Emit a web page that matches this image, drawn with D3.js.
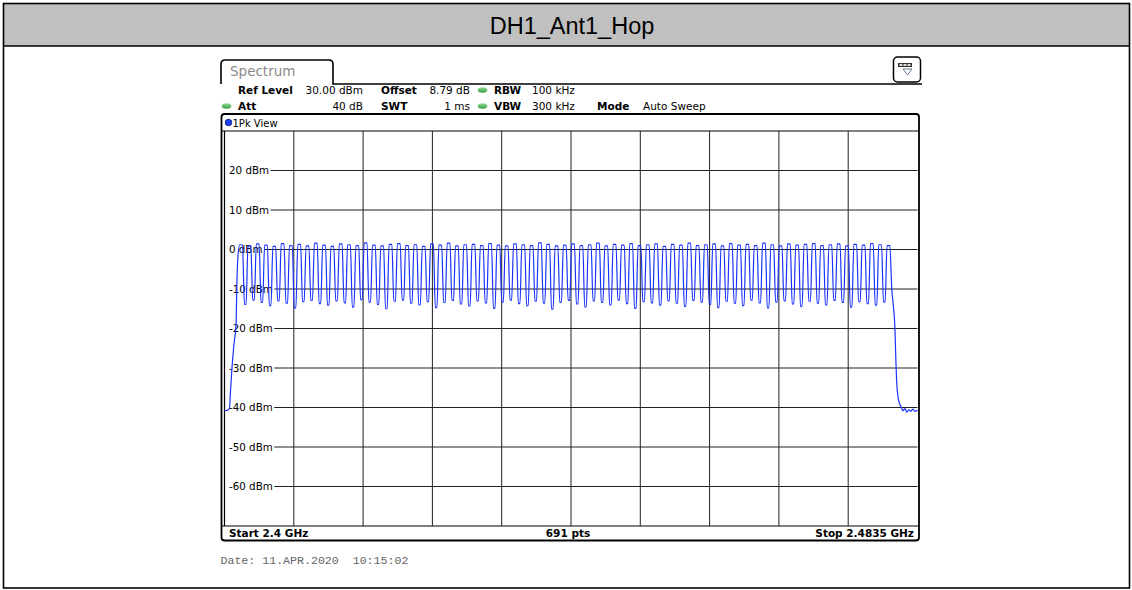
<!DOCTYPE html>
<html>
<head>
<meta charset="utf-8">
<script src="https://cdn.jsdelivr.net/npm/d3@7"></script>
<style>
body { margin: 0; background: #fff; }
svg { display: block; }
text { white-space: pre; }
</style>
</head>
<body>
<script>
var svgWidth = 1132;
var svgHeight = 590;

// values
var title = "DH1_Ant1_Hop";
var levelTicks = [20, 10, 0, -10, -20, -30, -40, -50, -60];
var levelTop = 30, levelBottom = -70;
var freqStart = 2400.0, freqStop = 2483.5;

// hopping channels (MHz) and the level seen on each one
var channels = d3.range(2402, 2481);
var peakLevels = [
    1.2, 0.9, 1.4, 1.1, 0.8, 1.5, 1.0, 1.3, 0.9, 1.6,
    1.1, 0.8, 1.4, 1.2, 1.0, 1.7, 1.1, 0.9, 1.3, 1.5,
    1.0, 1.2, 0.8, 1.4, 1.1, 1.6, 0.9, 1.2, 1.3, 1.0,
    1.5, 1.1, 0.9, 1.4, 1.2, 1.0, 1.7, 1.3, 0.9, 1.1,
    1.4, 1.0, 1.2, 1.6, 0.9, 1.3, 1.1, 1.5, 1.0, 1.2,
    1.4, 0.8, 1.3, 1.1, 1.6, 1.0, 1.2, 1.4, 0.9, 1.5,
    1.1, 1.3, 1.0, 1.6, 1.2, 0.9, 1.4, 1.1, 1.3, 1.5,
    1.0, 1.2, 1.4, 0.9, 1.3, 1.1, 1.5, 1.2, 1.0
];
// level in the gap between two neighbouring channels
var dipLevels = [
    -13.9, -12.8, -13.4, -14.2, -13.0, -13.6, -14.8, -13.2, -12.9, -13.7,
    -14.1, -13.0, -13.5, -14.6, -12.7, -13.3, -13.9, -15.0, -13.1, -12.8,
    -13.6, -14.0, -13.2, -14.7, -13.4, -12.9, -13.8, -14.3, -13.0, -13.5,
    -14.9, -13.3, -12.8, -13.7, -14.2, -13.1, -13.6, -15.1, -13.4, -12.9,
    -13.8, -14.5, -13.0, -13.4, -14.0, -12.8, -13.7, -14.9, -13.2, -13.5,
    -14.1, -13.0, -13.6, -14.4, -12.9, -13.3, -13.9, -14.7, -13.1, -13.6,
    -14.2, -12.8, -13.5, -14.8, -13.3, -13.0, -13.8, -14.4, -13.1, -13.6,
    -14.0, -12.9, -13.4, -14.6, -13.2, -13.7, -14.1, -13.3
];
// band edges: [MHz, dBm]
var leftSkirt = [
    [2400.00, -40.6], [2400.18, -40.8], [2400.60, -40.3], [2400.72, -36.0],
    [2400.90, -30.0], [2401.14, -24.0], [2401.39, -19.0], [2401.50, -8.0],
    [2401.63, -1.5]
];
var rightSkirt = [
    [2480.40, -10.0], [2480.58, -14.0], [2480.78, -20.0], [2480.90, -28.5],
    [2480.99, -33.5], [2481.18, -37.7], [2481.39, -39.3], [2481.59, -40.2],
    [2481.75, -40.8], [2481.99, -40.3], [2482.23, -41.2], [2482.47, -40.6],
    [2482.71, -40.9], [2482.95, -40.4], [2483.19, -41.0], [2483.50, -40.7]
];

var settingsLabels = [["Ref Level", "Offset", "RBW"], ["Att", "SWT", "VBW", "Mode"]];
var settingsValues = [["30.00 dBm", "8.79 dB", "100 kHz"], ["40 dB", "1 ms", "300 kHz", "Auto Sweep"]];
var traceName = "1Pk View";
var footer = ["Start 2.4 GHz", "691 pts", "Stop 2.4835 GHz"];
var dateText = "Date: 11.APR.2020  10:15:02";

var font = "'DejaVu Sans', Verdana, sans-serif";

var svg = d3.select("body").append("svg").attr("width", svgWidth).attr("height", svgHeight);

// page frame + header
svg.append("rect").attr("x", 3.5).attr("y", 3.5).attr("width", 1126).attr("height", 42.5)
    .attr("fill", "#c0c0c0");
svg.append("line").attr("x1", 3).attr("x2", 1130).attr("y1", 46).attr("y2", 46)
    .attr("stroke", "#000").attr("stroke-width", 1.6);
svg.append("rect").attr("x", 3.5).attr("y", 3.5).attr("width", 1126).attr("height", 584.5)
    .attr("fill", "none").attr("stroke", "#000").attr("stroke-width", 1.6);
svg.append("text").attr("x", 572).attr("y", 34).attr("text-anchor", "middle")
    .attr("font-family", "'Liberation Sans', Arial, sans-serif").attr("font-size", 23.5)
    .text(title);

// spectrum tab
svg.append("path")
    .attr("d", "M221,84 V64 Q221,60 225,60 H329 Q333,60 333,64 V84 H922")
    .attr("fill", "none").attr("stroke", "#000").attr("stroke-width", 1.6);
svg.append("text").attr("x", 230).attr("y", 76).attr("font-family", font).attr("font-size", 13.5)
    .attr("fill", "#8a8a8a").text("Spectrum");

// menu icon top right
var icon = svg.append("g");
icon.append("rect").attr("x", 893.5).attr("y", 57).attr("width", 27).attr("height", 25).attr("rx", 4)
    .attr("fill", "#fff").attr("stroke", "#000").attr("stroke-width", 1.5);
icon.append("rect").attr("x", 898).attr("y", 63).attr("width", 14).attr("height", 4).attr("fill", "#333");
[899.5, 903.5, 907.5].forEach(function(cx) {
    icon.append("rect").attr("x", cx).attr("y", 64).attr("width", 3).attr("height", 2).attr("fill", "#ddd");
});
icon.append("path").attr("d", "M903,69 H912 L907.5,75 Z").attr("fill", "none")
    .attr("stroke", "#6a7a90").attr("stroke-width", 1);

// settings rows
var colX = [[238, 381, 494], [238, 381, 494, 597]];
var valX = [[363, 470, 532], [363, 470, 532, 643]];
var valAnchor = [["end", "end", "start"], ["end", "end", "start", "start"]];
var rowY = [94, 110];
settingsLabels.forEach(function(row, r) {
    row.forEach(function(label, i) {
        svg.append("text").attr("x", colX[r][i]).attr("y", rowY[r]).attr("font-family", font)
            .attr("font-size", 10.5).attr("font-weight", "bold").text(label);
        svg.append("text").attr("x", valX[r][i]).attr("y", rowY[r]).attr("font-family", font)
            .attr("font-size", 10.5).attr("text-anchor", valAnchor[r][i]).text(settingsValues[r][i]);
    });
});
var dotGrad = svg.append("defs").append("linearGradient").attr("id", "led")
    .attr("x1", 0).attr("y1", 0).attr("x2", 0).attr("y2", 1);
dotGrad.append("stop").attr("offset", 0).attr("stop-color", "#9be09b");
dotGrad.append("stop").attr("offset", 1).attr("stop-color", "#2e9a3a");
[[482.5, 90], [226.5, 106], [482.5, 106]].forEach(function(p) {
    svg.append("ellipse").attr("cx", p[0]).attr("cy", p[1]).attr("rx", 4.8).attr("ry", 2.8)
        .attr("fill", "url(#led)");
});

// diagram box
var gridLeft = 224.5, gridRight = 917.5, gridTop = 131, gridBottom = 526;
svg.append("rect").attr("x", 221.5).attr("y", 114).attr("width", 697.5).attr("height", 426.5).attr("rx", 3)
    .attr("fill", "#fff").attr("stroke", "#000").attr("stroke-width", 1.8);
svg.append("line").attr("x1", 221.5).attr("x2", 919).attr("y1", gridTop).attr("y2", gridTop)
    .attr("stroke", "#000").attr("stroke-width", 1);
svg.append("line").attr("x1", 221.5).attr("x2", 919).attr("y1", gridBottom).attr("y2", gridBottom)
    .attr("stroke", "#000").attr("stroke-width", 1.2);
svg.append("line").attr("x1", gridLeft).attr("x2", gridLeft).attr("y1", gridTop).attr("y2", gridBottom)
    .attr("stroke", "#000").attr("stroke-width", 1.2);
svg.append("circle").attr("cx", 228.5).attr("cy", 122.5).attr("r", 3.3)
    .attr("fill", "#1a3cff").attr("stroke", "#0a1a70").attr("stroke-width", 0.8);
svg.append("text").attr("x", 232.5).attr("y", 126.5).attr("font-family", font).attr("font-size", 10)
    .text(traceName);

var x = d3.scaleLinear().domain([freqStart, freqStop]).range([gridLeft, gridRight]);
var y = d3.scaleLinear().domain([levelBottom, levelTop]).range([gridBottom, gridTop]);

// vertical grid, 10 divisions
var gridFreqs = d3.range(1, 10).map(function(i) { return freqStart + i * (freqStop - freqStart) / 10; });
svg.append("g").selectAll("line").data(gridFreqs).join("line")
    .attr("x1", function(d) { return x(d); }).attr("x2", function(d) { return x(d); })
    .attr("y1", gridTop).attr("y2", gridBottom)
    .attr("stroke", "#222").attr("stroke-width", 1);

// horizontal grid with dBm labels
var levels = svg.append("g").selectAll("g").data(levelTicks).join("g");
levels.append("text")
    .attr("x", 229).attr("y", function(d) { return y(d) + 3.8; })
    .attr("font-family", font).attr("font-size", 10.3)
    .text(function(d) { return d + " dBm"; });
levels.each(function(d) {
    var w = d3.select(this).select("text").node().getComputedTextLength();
    d3.select(this).append("line")
        .attr("x1", 229 + w + 1.5).attr("x2", gridRight)
        .attr("y1", y(d)).attr("y2", y(d))
        .attr("stroke", "#222").attr("stroke-width", 1);
});

// trace: band edge, channel peaks/gaps, band edge
var tracePoints = leftSkirt.slice();
channels.forEach(function(f, i) {
    tracePoints.push([f - 0.17, peakLevels[i]]);
    tracePoints.push([f + 0.17, peakLevels[i]]);
    if (i < dipLevels.length) {
        tracePoints.push([f + 0.4, dipLevels[i]]);
        tracePoints.push([f + 0.6, dipLevels[i]]);
    }
});
tracePoints = tracePoints.concat(rightSkirt);

var line = d3.line()
    .x(function(d) { return x(d[0]); })
    .y(function(d) { return y(d[1]); })
    .curve(d3.curveMonotoneX);
svg.append("path").datum(tracePoints).attr("d", line)
    .attr("fill", "none").attr("stroke", "#1a32ff").attr("stroke-width", 1.2);

// footer bar
svg.append("text").attr("x", 229).attr("y", 537).attr("font-family", font).attr("font-size", 10.5)
    .attr("font-weight", "bold").text(footer[0]);
svg.append("text").attr("x", 568).attr("y", 537).attr("text-anchor", "middle").attr("font-family", font)
    .attr("font-size", 10.5).attr("font-weight", "bold").text(footer[1]);
svg.append("text").attr("x", 914).attr("y", 537).attr("text-anchor", "end").attr("font-family", font)
    .attr("font-size", 10.5).attr("font-weight", "bold").text(footer[2]);

svg.append("text").attr("x", 220.5).attr("y", 564)
    .attr("font-family", "'Liberation Mono', 'Courier New', monospace").attr("font-size", 11.6)
    .attr("fill", "#666").text(dateText);
</script>
</body>
</html>
